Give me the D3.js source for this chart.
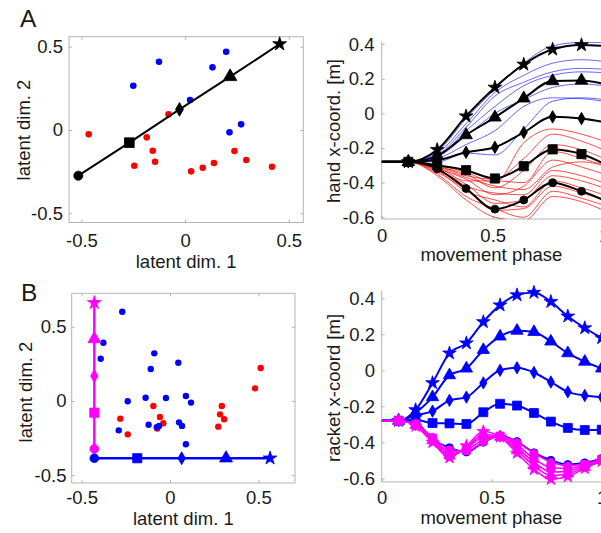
<!DOCTYPE html>
<html><head><meta charset="utf-8">
<script src="https://cdn.jsdelivr.net/npm/d3@7"></script>
<style>
body{margin:0;background:#fff;}
svg text{font-family:"Liberation Sans",Arial,Helvetica,sans-serif;fill:#1a1a1a;}
</style>
</head><body>
<svg id="c" width="601" height="533" style="background:#fff"></svg>
<script>
// ---------------- DATA ----------------
const markerOrder = ['circle','square','diamond','triangle','star'];

// Panel A (left): latent space
const latentA_x = [-0.515, -0.269, -0.027, 0.217, 0.456];
const latentA_y = [-0.274, -0.076, 0.124, 0.32, 0.516];
const dotsA_blue = [[-0.25,0.266],[-0.126,0.41],[0.132,0.376],[0.198,0.47],[0.024,0.18],[0.27,0.034],[0.214,-0.014]];
const dotsA_red = [[-0.465,-0.026],[-0.08,0.094],[-0.185,-0.044],[-0.156,-0.124],[-0.145,-0.19],[-0.245,-0.214],
                   [0.029,-0.248],[0.085,-0.226],[0.139,-0.198],[0.238,-0.126],[0.295,-0.18],[0.419,-0.22]];

// Panel A (right): hand x-coordinate vs movement phase
const phaseA = [0, 0.12, 0.25, 0.38, 0.51, 0.64, 0.77, 0.90, 1.0];
const handBlack = {
  circle:   [-0.28,-0.28,-0.32,-0.434,-0.553,-0.50,-0.40,-0.45,-0.50],
  square:   [-0.28,-0.28,-0.30,-0.328,-0.376,-0.305,-0.208,-0.235,-0.29],
  diamond:  [-0.28,-0.28,-0.27,-0.225,-0.196,-0.11,-0.02,-0.03,-0.05],
  triangle: [-0.28,-0.28,-0.245,-0.125,-0.023,0.087,0.187,0.19,0.17],
  star:     [-0.28,-0.28,-0.21,-0.016,0.15,0.283,0.37,0.395,0.39]
};
const handBlue = [
  [-0.28,-0.28,-0.22,-0.03,0.14,0.29,0.39,0.41,0.41],
  [-0.28,-0.28,-0.23,-0.06,0.12,0.22,0.29,0.31,0.30],
  [-0.28,-0.28,-0.24,-0.08,0.10,0.18,0.24,0.26,0.255],
  [-0.28,-0.28,-0.25,-0.10,0.04,0.16,0.22,0.24,0.235],
  [-0.28,-0.28,-0.25,-0.13,0.00,0.08,0.15,0.17,0.16],
  [-0.28,-0.28,-0.26,-0.18,-0.10,0.04,0.09,0.085,0.07],
  [-0.28,-0.28,-0.28,-0.23,-0.24,-0.09,0.07,0.09,0.08]
];
const handRed = [
  [-0.28,-0.28,-0.30,-0.34,-0.40,-0.17,-0.09,-0.12,-0.16],
  [-0.28,-0.28,-0.30,-0.36,-0.38,-0.26,-0.12,-0.16,-0.21],
  [-0.28,-0.28,-0.31,-0.35,-0.43,-0.33,-0.18,-0.21,-0.26],
  [-0.28,-0.28,-0.31,-0.39,-0.39,-0.40,-0.22,-0.26,-0.30],
  [-0.28,-0.28,-0.32,-0.38,-0.47,-0.42,-0.27,-0.31,-0.35],
  [-0.28,-0.28,-0.32,-0.42,-0.46,-0.47,-0.33,-0.36,-0.40],
  [-0.28,-0.28,-0.33,-0.41,-0.52,-0.50,-0.36,-0.39,-0.43],
  [-0.28,-0.28,-0.33,-0.45,-0.50,-0.54,-0.39,-0.43,-0.47],
  [-0.28,-0.28,-0.34,-0.44,-0.56,-0.55,-0.42,-0.46,-0.50],
  [-0.28,-0.28,-0.35,-0.48,-0.55,-0.60,-0.45,-0.49,-0.53],
  [-0.28,-0.28,-0.36,-0.50,-0.60,-0.62,-0.48,-0.51,-0.56],
  [-0.28,-0.28,-0.31,-0.37,-0.42,-0.44,-0.31,-0.28,-0.30]
];

// Panel B (left): latent space
const latentB_magenta_x = [-0.428,-0.428,-0.428,-0.428,-0.428];
const latentB_magenta_y = [-0.323,-0.079,0.168,0.418,0.662];
const latentB_blue_x = [-0.428,-0.185,0.066,0.317,0.566];
const latentB_blue_y = [-0.386,-0.386,-0.386,-0.386,-0.386];
const dotsB_blue = [[-0.27,0.602],[-0.377,0.393],[-0.392,0.285],[-0.089,0.321],[-0.109,0.216],[0.047,0.258],
                    [-0.239,-0.002],[-0.138,0.022],[-0.023,0.02],[0.09,0.034],[0.119,-0.011],[-0.29,-0.198],
                    [-0.121,-0.16],[-0.075,-0.177],[-0.062,-0.168],[0.051,-0.144],[0.068,-0.168],[0.09,-0.292]];
const dotsB_red = [[-0.281,-0.119],[-0.239,-0.225],[-0.094,-0.034],[-0.057,-0.108],[-0.038,-0.15],[-0.072,-0.186],
                   [0.293,-0.034],[0.283,-0.09],[0.306,-0.123],[0.273,-0.173],[0.481,0.085],[0.513,0.222]];

// Panel B (right): racket x-coordinate vs movement phase
const phaseB = [0,0.077,0.154,0.231,0.308,0.385,0.462,0.538,0.615,0.692,0.769,0.846,0.923,1.0];
const racketBlue = {
  star:     [-0.28,-0.28,-0.22,-0.07,0.095,0.151,0.269,0.362,0.418,0.432,0.381,0.30,0.235,0.18],
  triangle: [-0.28,-0.28,-0.235,-0.149,-0.027,0.01,0.113,0.188,0.22,0.213,0.16,0.095,0.048,0.01],
  diamond:  [-0.28,-0.28,-0.25,-0.227,-0.167,-0.149,-0.07,0.0,0.014,-0.012,-0.065,-0.12,-0.14,-0.149],
  square:   [-0.28,-0.28,-0.275,-0.293,-0.295,-0.298,-0.233,-0.186,-0.196,-0.237,-0.285,-0.32,-0.332,-0.33],
  circle:   [-0.28,-0.28,-0.29,-0.383,-0.43,-0.454,-0.40,-0.364,-0.396,-0.458,-0.50,-0.523,-0.514,-0.49]
};
const racketMagenta = {
  circle:   [-0.28,-0.28,-0.30,-0.37,-0.44,-0.45,-0.40,-0.365,-0.40,-0.46,-0.51,-0.53,-0.52,-0.495],
  square:   [-0.28,-0.28,-0.30,-0.378,-0.452,-0.442,-0.385,-0.366,-0.415,-0.49,-0.54,-0.545,-0.525,-0.497],
  diamond:  [-0.28,-0.28,-0.305,-0.385,-0.465,-0.435,-0.37,-0.368,-0.43,-0.51,-0.565,-0.56,-0.532,-0.50],
  triangle: [-0.28,-0.28,-0.305,-0.39,-0.475,-0.43,-0.355,-0.37,-0.445,-0.53,-0.585,-0.575,-0.54,-0.50],
  star:     [-0.28,-0.28,-0.31,-0.40,-0.485,-0.42,-0.34,-0.37,-0.46,-0.55,-0.605,-0.59,-0.545,-0.505]
};

const latentTicks = [-0.5, 0, 0.5];
const phaseTicks = [0, 0.5, 1];
const coordTicks = [-0.6, -0.4, -0.2, 0, 0.2, 0.4];

// ---------------- DRAWING ----------------
const svg = d3.select('#c');
const FS = 18.5;
const GRAY = '#b4b4b4';
const BLUE = '#0000ff', RED = '#ff0000', MAG = '#ff00ff', BLK = '#000000';
const symType = {circle:d3.symbolCircle, square:d3.symbolSquare, diamond:d3.symbolDiamond, triangle:d3.symbolTriangle, star:d3.symbolStar};
const fmt = d => String(d);

function drawAxes(o) {
  const g = svg.append('g');
  const [x0,x1] = o.x.range(), [y0,y1] = o.y.range();
  if (o.box) {
    g.append('rect').attr('x',x0).attr('y',y1).attr('width',x1-x0).attr('height',y0-y1)
      .attr('fill','none').attr('stroke',GRAY).attr('stroke-width',1);
  } else {
    g.append('line').attr('x1',x0).attr('x2',x0).attr('y1',y0).attr('y2',y1).attr('stroke',GRAY);
    g.append('line').attr('x1',x0).attr('x2',x1).attr('y1',y0).attr('y2',y0).attr('stroke',GRAY);
  }
  g.append('g').attr('transform',`translate(0,${y0})`)
    .call(d3.axisBottom(o.x).tickValues(o.xTicks).tickSizeInner(-3).tickSizeOuter(0).tickPadding(o.xPad).tickFormat(fmt));
  g.append('g').attr('transform',`translate(${x0},0)`)
    .call(d3.axisLeft(o.y).tickValues(o.yTicks).tickSizeInner(-3).tickSizeOuter(0).tickPadding(o.yPad).tickFormat(fmt));
  if (o.box) {
    g.append('g').attr('transform',`translate(0,${y1})`)
      .call(d3.axisTop(o.x).tickValues(o.xTicks).tickSizeInner(-3).tickSizeOuter(0).tickFormat(''));
    g.append('g').attr('transform',`translate(${x1},0)`)
      .call(d3.axisRight(o.y).tickValues(o.yTicks).tickSizeInner(-3).tickSizeOuter(0).tickFormat(''));
  }
  g.selectAll('.domain').remove();
  g.selectAll('.tick line').attr('stroke',GRAY);
  g.selectAll('.tick text').attr('fill','#1a1a1a').style('font-size',FS+'px')
    .style('font-family','"Liberation Sans",Arial,sans-serif');
  g.append('text').attr('x',(x0+Math.min(x1,601))/2 + (o.xTitleDx||0)).attr('y',o.xTitleY)
    .attr('text-anchor','middle').style('font-size',FS+'px').text(o.xTitle);
  g.append('text').attr('transform',`translate(${o.yTitleX},${o.yTitleY}) rotate(-90)`)
    .attr('text-anchor','middle').style('font-size',FS+'px').text(o.yTitle);
  return g;
}

function clipFor(id, x, y) {
  const [x0,x1] = x.range(), [y0,y1] = y.range();
  svg.append('clipPath').attr('id',id).append('rect')
    .attr('x',x0).attr('y',y1).attr('width',x1-x0).attr('height',y0-y1);
  return `url(#${id})`;
}

function marker(g, shape, cx, cy, size, color) {
  g.append('path').attr('d', d3.symbol().type(symType[shape]).size(size)())
    .attr('transform',`translate(${cx},${cy})`).attr('fill',color).attr('stroke',color).attr('stroke-width',0.8);
}

// ---- Panel A left ----
{
  const x = d3.scaleLinear().domain([-0.56,0.57]).range([69,303.3]);
  const y = d3.scaleLinear().domain([-0.555,0.56]).range([222.5,36.7]);
  drawAxes({x,y,box:true,xTicks:latentTicks,yTicks:latentTicks,xPad:11.4,yPad:6,
    xTitle:'latent dim. 1',xTitleY:268,yTitle:'latent dim. 2',yTitleX:30,yTitleY:130});
  const g = svg.append('g');
  dotsA_red.forEach(d => g.append('circle').attr('cx',x(d[0])).attr('cy',y(d[1])).attr('r',3.3).attr('fill',RED));
  dotsA_blue.forEach(d => g.append('circle').attr('cx',x(d[0])).attr('cy',y(d[1])).attr('r',3.3).attr('fill',BLUE));
  g.append('path').datum(d3.range(5)).attr('fill','none').attr('stroke',BLK).attr('stroke-width',2)
    .attr('d', d3.line().x(i=>x(latentA_x[i])).y(i=>y(latentA_y[i])));
  const sz = {circle:65,square:95,diamond:55,triangle:80,star:60};
  markerOrder.forEach((m,i) => marker(g, m, x(latentA_x[i]), y(latentA_y[i]), sz[m], BLK));
}

// ---- Panel A right ----
{
  const x = d3.scaleLinear().domain([0,1]).range([381.7,603.7]);
  const y = d3.scaleLinear().domain([-0.61,0.414]).range([219,41.7]);
  drawAxes({x,y,box:false,xTicks:phaseTicks,yTicks:coordTicks,xPad:9.5,yPad:7.2,
    xTitle:'movement phase',xTitleY:260.5,xTitleDx:0,yTitle:'hand x-coord. [m]',yTitleX:339.5,yTitleY:131});
  const clip = clipFor('clipAR', x, y);
  const g = svg.append('g').attr('clip-path',clip);
  const line = d3.line().curve(d3.curveMonotoneX).x((d,i)=>x(phaseA[i])).y(d=>y(d));
  handBlue.forEach(s => g.append('path').datum(s).attr('d',line).attr('fill','none')
    .attr('stroke',BLUE).attr('stroke-opacity',0.6).attr('stroke-width',1));
  handRed.forEach(s => g.append('path').datum(s).attr('d',line).attr('fill','none')
    .attr('stroke',RED).attr('stroke-opacity',0.7).attr('stroke-width',1));
  const gm = svg.append('g');
  const sz = {circle:50,square:85,diamond:45,triangle:70,star:58};
  markerOrder.forEach(m => {
    g.append('path').datum(handBlack[m]).attr('d',line).attr('fill','none').attr('stroke',BLK).attr('stroke-width',2);
  });
  markerOrder.forEach(m => {
    handBlack[m].forEach((v,i) => { if (i>=1 && i<=7) marker(gm, m, x(phaseA[i]), y(v), sz[m], BLK); });
  });
}

// ---- Panel B left ----
{
  const x = d3.scaleLinear().domain([-0.556,0.707]).range([71.7,295]);
  const y = d3.scaleLinear().domain([-0.553,0.726]).range([483,293.3]);
  drawAxes({x,y,box:true,xTicks:latentTicks,yTicks:latentTicks,xPad:7.5,yPad:5.2,
    xTitle:'latent dim. 1',xTitleY:525,yTitle:'latent dim. 2',yTitleX:31.5,yTitleY:392});
  const g = svg.append('g');
  dotsB_red.forEach(d => g.append('circle').attr('cx',x(d[0])).attr('cy',y(d[1])).attr('r',3.2).attr('fill',RED));
  dotsB_blue.forEach(d => g.append('circle').attr('cx',x(d[0])).attr('cy',y(d[1])).attr('r',3.2).attr('fill',BLUE));
  g.append('path').datum(d3.range(5)).attr('fill','none').attr('stroke',MAG).attr('stroke-width',2.5)
    .attr('d', d3.line().x(i=>x(latentB_magenta_x[i])).y(i=>y(latentB_magenta_y[i])));
  g.append('path').datum(d3.range(5)).attr('fill','none').attr('stroke',BLUE).attr('stroke-width',2.5)
    .attr('d', d3.line().x(i=>x(latentB_blue_x[i])).y(i=>y(latentB_blue_y[i])));
  const sz = {circle:60,square:85,diamond:48,triangle:72,star:58};
  markerOrder.forEach((m,i) => marker(g, m, x(latentB_magenta_x[i]), y(latentB_magenta_y[i]), sz[m], MAG));
  markerOrder.forEach((m,i) => marker(g, m, x(latentB_blue_x[i]), y(latentB_blue_y[i]), sz[m], BLUE));
}

// ---- Panel B right ----
{
  const x = d3.scaleLinear().domain([0,1]).range([381.7,601.7]);
  const y = d3.scaleLinear().domain([-0.62,0.44]).range([481.9,291.1]);
  drawAxes({x,y,box:false,xTicks:phaseTicks,yTicks:coordTicks,xPad:9.3,yPad:6.7,
    xTitle:'movement phase',xTitleY:524,yTitle:'racket x-coord [m]',yTitleX:339.5,yTitleY:388});
  const clip = clipFor('clipBR', x, y);
  const line = d3.line().curve(d3.curveMonotoneX).x((d,i)=>x(phaseB[i])).y(d=>y(d));
  const g = svg.append('g');
  const gl = g.append('g').attr('clip-path',clip);
  const sz = {circle:50,square:80,diamond:44,triangle:66,star:58};
  markerOrder.forEach(m => {
    gl.append('path').datum(racketBlue[m]).attr('d',line).attr('fill','none').attr('stroke',BLUE).attr('stroke-width',2);
  });
  markerOrder.forEach(m => {
    racketBlue[m].forEach((v,i) => { if (i>=1) marker(g, m, x(phaseB[i]), y(v), sz[m], BLUE); });
  });
  const g2 = svg.append('g');
  const gl2 = g2.append('g').attr('clip-path',clip);
  markerOrder.forEach(m => {
    gl2.append('path').datum(racketMagenta[m]).attr('d',line).attr('fill','none').attr('stroke',MAG).attr('stroke-width',1.6);
  });
  markerOrder.forEach(m => {
    racketMagenta[m].forEach((v,i) => { if (i>=1) marker(g2, m, x(phaseB[i]), y(v), sz[m]*0.85, MAG); });
  });
}

// Panel letters
svg.append('text').attr('x',20).attr('y',27).style('font-size','24.5px').text('A');
svg.append('text').attr('x',21).attr('y',301).style('font-size','24.5px').text('B');
</script>
</body></html>
